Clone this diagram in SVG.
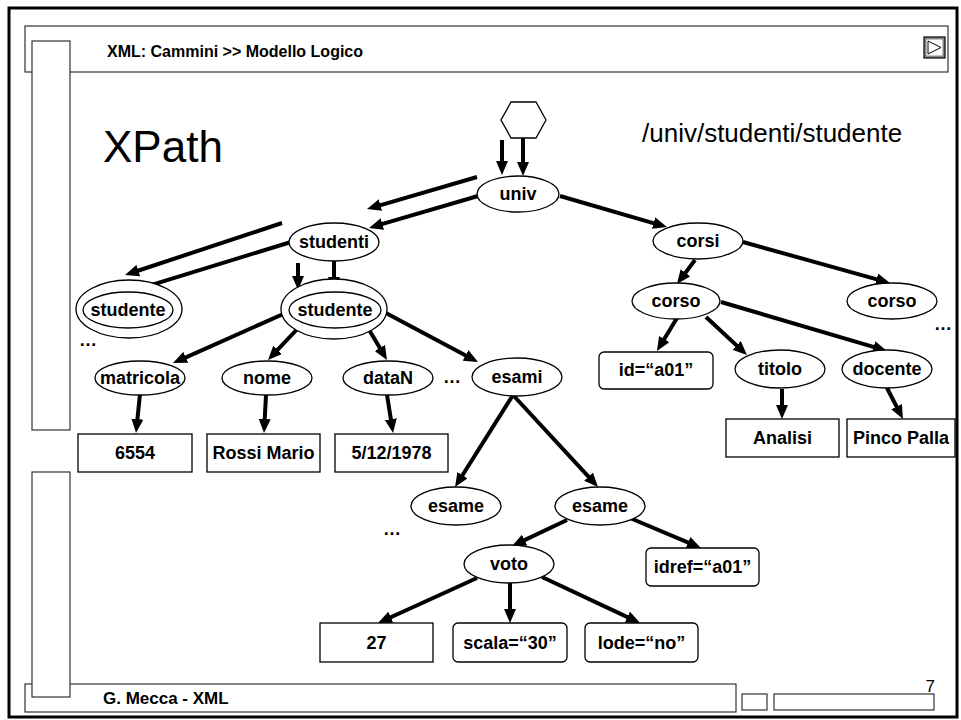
<svg xmlns="http://www.w3.org/2000/svg" width="961" height="720" viewBox="0 0 961 720">
<style>
  .frame{fill:none;stroke:#000;stroke-width:3}
  .bar{fill:#fff;stroke:#333;stroke-width:1.2}
  .nd{fill:#fff;stroke:#000;stroke-width:1.3}
  .lbl{font-family:"Liberation Sans",Arial,sans-serif;font-weight:bold;font-size:18px;text-anchor:middle;fill:#000}
  .dots{font-family:"Liberation Sans",Arial,sans-serif;font-weight:bold;font-size:18px;fill:#000}
  .edge{stroke:#000;stroke-width:4;fill:none;marker-end:url(#ah)}
</style>
<defs>
  <marker id="ah" viewBox="0 0 14 12" refX="6" refY="6" markerWidth="14" markerHeight="12" markerUnits="userSpaceOnUse" orient="auto">
    <path d="M0,0 L14,6 L0,12 z" fill="#000"/>
  </marker>
</defs>
<rect width="961" height="720" fill="#fff"/>
<rect class="frame" x="9" y="8" width="948" height="709"/>
<g id="header">
  <rect class="bar" x="25" y="26" width="923" height="46"/>
  <text x="107" y="57" font-family="Liberation Sans,Arial,sans-serif" font-weight="bold" font-size="16" fill="#000">XML: Cammini &gt;&gt; Modello Logico</text>
  <rect x="924" y="37" width="21" height="21" fill="#999" stroke="#000" stroke-width="1.2"/>
  <rect x="926" y="39" width="17" height="17" fill="#fff" stroke="#666" stroke-width="0.8"/>
  <path d="M928,41 L941,47.5 L928,54 z" fill="none" stroke="#000" stroke-width="1"/>
</g>
<g id="footer">
  <rect class="bar" x="25" y="684" width="711" height="28"/>
  <rect class="bar" x="742" y="694" width="25" height="16"/>
  <rect class="bar" x="774" y="694" width="160" height="16"/>
  <text x="103" y="704" font-family="Liberation Sans,Arial,sans-serif" font-weight="bold" font-size="17" fill="#000">G. Mecca - XML</text>
  <text x="935" y="692" text-anchor="end" font-family="Liberation Sans,Arial,sans-serif" font-size="17" fill="#000">7</text>
</g>
<g id="sidebars">
  <rect class="bar" x="32" y="41" width="38" height="389"/>
  <rect class="bar" x="32" y="472" width="38" height="225"/>
</g>
<text x="103" y="162" font-family="Liberation Sans,Arial,sans-serif" font-size="44" fill="#000">XPath</text>
<text x="642" y="142" font-family="Liberation Sans,Arial,sans-serif" font-size="26" fill="#000">/univ/studenti/studente</text>

<g id="connectors">
  <line class="edge" x1="502" y1="140" x2="502" y2="167"/>
  <line class="edge" x1="523" y1="138" x2="523" y2="168"/>
  <line class="edge" x1="477" y1="177" x2="374.7" y2="206.8"/>
  <line class="edge" x1="478" y1="196" x2="376.7" y2="225.7"/>
  <line class="edge" x1="282" y1="223" x2="132.6" y2="272.5"/>
  <line class="edge" x1="291" y1="242" x2="139.6" y2="288.6"/>
  <line class="edge" x1="298" y1="263" x2="298" y2="282"/>
  <line class="edge" x1="334" y1="260" x2="334" y2="283"/>
  <line class="edge" x1="290" y1="311" x2="180.3" y2="359.8"/>
  <line class="edge" x1="303" y1="323" x2="273.5" y2="354.2"/>
  <line class="edge" x1="365" y1="323" x2="382.9" y2="353.1"/>
  <line class="edge" x1="384" y1="312" x2="470.9" y2="358.2"/>
  <line class="edge" x1="140" y1="394" x2="136.8" y2="425"/>
  <line class="edge" x1="266" y1="395" x2="264.4" y2="425"/>
  <line class="edge" x1="387" y1="395" x2="391.8" y2="425.1"/>
  <line class="edge" x1="560" y1="196" x2="659.3" y2="224.8"/>
  <line class="edge" x1="695" y1="260" x2="681.8" y2="277.6"/>
  <line class="edge" x1="743" y1="242" x2="882.3" y2="280.9"/>
  <line class="edge" x1="677" y1="318" x2="661.1" y2="344.2"/>
  <line class="edge" x1="706" y1="317" x2="741.1" y2="349.6"/>
  <line class="edge" x1="721" y1="302" x2="879.3" y2="348.7"/>
  <line class="edge" x1="782" y1="389" x2="782" y2="411"/>
  <line class="edge" x1="887" y1="388" x2="899.3" y2="411.9"/>
  <line class="edge" x1="513" y1="395" x2="459.3" y2="480.2"/>
  <line class="edge" x1="513" y1="395" x2="592.6" y2="481.1"/>
  <line class="edge" x1="567" y1="520" x2="519.2" y2="542.6"/>
  <line class="edge" x1="630" y1="518" x2="693.6" y2="544.9"/>
  <line class="edge" x1="477" y1="578" x2="385.3" y2="619.7"/>
  <line class="edge" x1="510" y1="583" x2="510" y2="615"/>
  <line class="edge" x1="542" y1="577" x2="632.8" y2="619.6"/>
</g>

<g id="root"><path class="nd" d="M511,102 L536,102 L546,120 L536,138 L511,138 L501,120 z"/></g>
<g id="univ"><ellipse class="nd" cx="518" cy="194" rx="41" ry="18"/><text class="lbl" x="518" y="200">univ</text></g>
<g id="studenti"><ellipse class="nd" cx="334" cy="242" rx="45" ry="19"/><text class="lbl" x="334" y="248">studenti</text></g>
<g id="studente1"><ellipse class="nd" cx="129" cy="309" rx="53" ry="29"/><ellipse class="nd" cx="128" cy="310" rx="45" ry="18"/><text class="lbl" x="128" y="316">studente</text></g>
<g id="studente2"><ellipse class="nd" cx="334" cy="309" rx="53" ry="30"/><ellipse class="nd" cx="335" cy="310" rx="46" ry="18"/><text class="lbl" x="335" y="316">studente</text></g>
<g id="corsi"><ellipse class="nd" cx="698" cy="241" rx="45" ry="18"/><text class="lbl" x="698" y="247">corsi</text></g>
<g id="corso1"><ellipse class="nd" cx="676" cy="301" rx="44" ry="18"/><text class="lbl" x="676" y="307">corso</text></g>
<g id="corso2"><ellipse class="nd" cx="892" cy="301" rx="45" ry="18"/><text class="lbl" x="892" y="307">corso</text></g>
<g id="matricola"><ellipse class="nd" cx="140" cy="378" rx="45" ry="17"/><text class="lbl" x="140" y="384">matricola</text></g>
<g id="nome"><ellipse class="nd" cx="267" cy="378" rx="45" ry="17"/><text class="lbl" x="267" y="384">nome</text></g>
<g id="dataN"><ellipse class="nd" cx="388" cy="378" rx="45" ry="17"/><text class="lbl" x="388" y="384">dataN</text></g>
<g id="esami"><ellipse class="nd" cx="517" cy="377" rx="45" ry="19"/><text class="lbl" x="517" y="383">esami</text></g>
<g id="id"><rect class="nd" x="599" y="352" width="114" height="37" rx="5"/><text class="lbl" x="656" y="376">id=“a01”</text></g>
<g id="titolo"><ellipse class="nd" cx="780" cy="369" rx="45" ry="19"/><text class="lbl" x="780" y="375">titolo</text></g>
<g id="docente"><ellipse class="nd" cx="887" cy="369" rx="45" ry="19"/><text class="lbl" x="887" y="375">docente</text></g>
<g id="v6554"><rect class="nd" x="78" y="434" width="114" height="38"/><text class="lbl" x="135" y="459">6554</text></g>
<g id="rossi"><rect class="nd" x="207" y="434" width="113" height="38"/><text class="lbl" x="263.5" y="459">Rossi Mario</text></g>
<g id="data"><rect class="nd" x="335" y="434" width="113" height="38"/><text class="lbl" x="391.5" y="459">5/12/1978</text></g>
<g id="analisi"><rect class="nd" x="726" y="419" width="113" height="38"/><text class="lbl" x="782.5" y="444">Analisi</text></g>
<g id="pinco"><rect class="nd" x="847" y="419" width="108" height="38"/><text class="lbl" x="901" y="444">Pinco Palla</text></g>
<g id="esame1"><ellipse class="nd" cx="456" cy="506" rx="45" ry="19"/><text class="lbl" x="456" y="512">esame</text></g>
<g id="esame2"><ellipse class="nd" cx="600" cy="506" rx="45" ry="19"/><text class="lbl" x="600" y="512">esame</text></g>
<g id="voto"><ellipse class="nd" cx="509" cy="564" rx="45" ry="19"/><text class="lbl" x="509" y="570">voto</text></g>
<g id="idref"><rect class="nd" x="646" y="548" width="113" height="38" rx="5"/><text class="lbl" x="702.5" y="573">idref=“a01”</text></g>
<g id="v27"><rect class="nd" x="320" y="623" width="113" height="39"/><text class="lbl" x="376.5" y="649">27</text></g>
<g id="scala"><rect class="nd" x="453" y="623" width="114" height="39" rx="5"/><text class="lbl" x="510" y="649">scala=“30”</text></g>
<g id="lode"><rect class="nd" x="585" y="623" width="113" height="39" rx="5"/><text class="lbl" x="641.5" y="649">lode=“no”</text></g>

<g id="ellipses">
  <text class="dots" x="79" y="346">…</text>
  <text class="dots" x="443" y="383">…</text>
  <text class="dots" x="383" y="535">…</text>
  <text class="dots" x="934" y="330">…</text>
</g>
</svg>
